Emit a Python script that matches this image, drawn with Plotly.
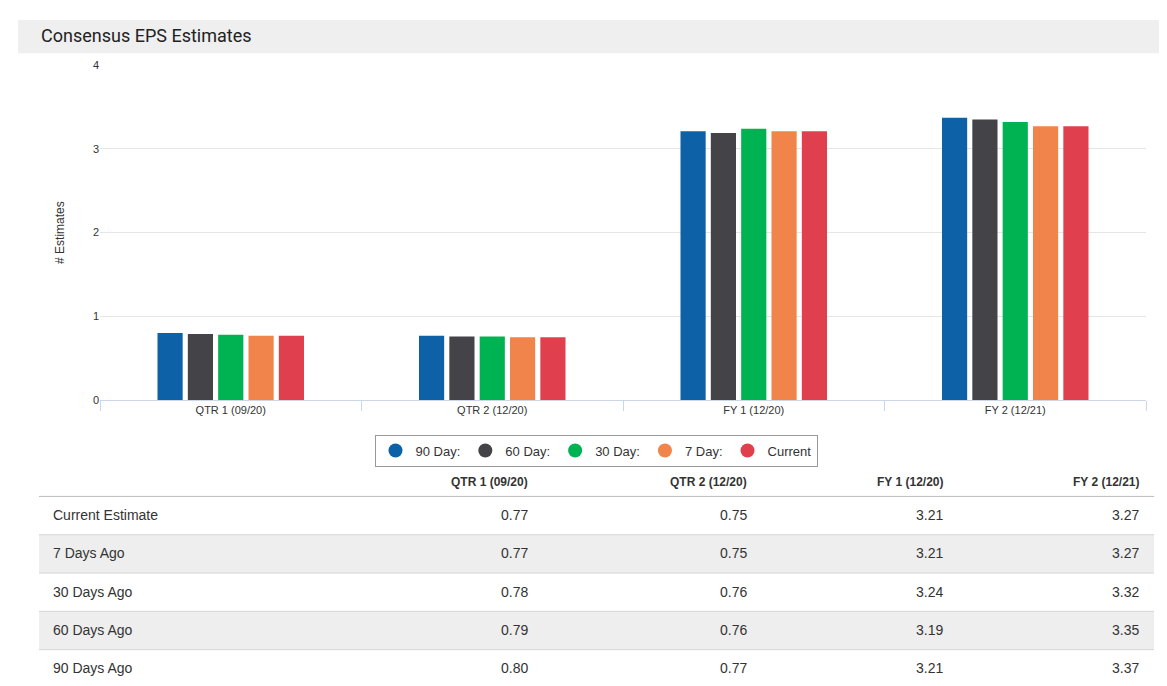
import plotly.graph_objects as go

# Consensus EPS estimates
periods = ["QTR 1 (09/20)", "QTR 2 (12/20)", "FY 1 (12/20)", "FY 2 (12/21)"]
series_names = ["90 Day:", "60 Day:", "30 Day:", "7 Day:", "Current"]
day90 = [0.80, 0.77, 3.21, 3.37]
day60 = [0.79, 0.76, 3.19, 3.35]
day30 = [0.78, 0.76, 3.24, 3.32]
day7 = [0.77, 0.75, 3.21, 3.27]
current = [0.77, 0.75, 3.21, 3.27]
colors = ["#0d62a7", "#434348", "#00b352", "#f0844a", "#e0404d"]

row_labels = ["Current Estimate", "7 Days Ago", "30 Days Ago", "60 Days Ago", "90 Days Ago"]
row_values = [current, day7, day30, day60, day90]

W, H = 1167, 686
def px(x):
    return x / W
def py(y):
    return 1 - y / H

fig = go.Figure()
for name, vals, c in zip(series_names, [day90, day60, day30, day7, current], colors):
    fig.add_trace(go.Bar(x=periods, y=vals, marker_color=c, marker_line_width=0,
                         showlegend=False, hoverinfo="y"))
    fig.add_trace(go.Scatter(x=[None], y=[None], mode="markers", name=name,
                             marker=dict(color=c, size=14, symbol="circle")))

shapes = [dict(type="rect", xref="paper", yref="paper", x0=px(10), x1=px(1160),
               y0=py(40), y1=py(6), fillcolor="#efefef", line_width=0, layer="below")]
annotations = [dict(text="Consensus EPS Estimates", x=px(31), y=py(22), xref="paper", yref="paper",
                    xanchor="left", yanchor="middle", showarrow=False,
                    font=dict(family="Roboto", size=18, color="#222"))]

# table
col_x = [522, 741, 937, 1133]
for p, cx in zip(periods, col_x):
    annotations.append(dict(text="<b>" + p + "</b>", x=px(cx), y=py(476), xref="paper", yref="paper",
                            xanchor="right", yanchor="middle", showarrow=False,
                            font=dict(family="Arial", size=12, color="#333")))
shapes.append(dict(type="line", xref="paper", yref="paper", x0=px(31), x1=px(1146),
                   y0=py(491), y1=py(491), line=dict(color="#bbb", width=1)))
for i, (lab, vals) in enumerate(zip(row_labels, row_values)):
    top = 491 + 39 * i
    if i % 2 == 1:
        shapes.append(dict(type="rect", xref="paper", yref="paper", x0=px(31), x1=px(1146),
                           y0=py(top + 39), y1=py(top), fillcolor="#eeeeee", line_width=0, layer="below"))
    if i < 4:
        shapes.append(dict(type="line", xref="paper", yref="paper", x0=px(31), x1=px(1146),
                           y0=py(top + 39), y1=py(top + 39), line=dict(color="#d5d5d5", width=1)))
    annotations.append(dict(text=lab, x=px(43), y=py(top + 19), xref="paper", yref="paper",
                            xanchor="left", yanchor="middle", showarrow=False,
                            font=dict(family="Arial", size=14, color="#333")))
    for v, cx in zip(vals, col_x):
        annotations.append(dict(text=f"{v:.2f}", x=px(cx), y=py(top + 19), xref="paper", yref="paper",
                                xanchor="right", yanchor="middle", showarrow=False,
                                font=dict(family="Arial", size=14, color="#333")))

fig.update_layout(
    width=W, height=H, margin=dict(l=0, r=0, t=0, b=0),
    paper_bgcolor="white", plot_bgcolor="white",
    barmode="group", bargap=0.42, bargroupgap=0.17,
    shapes=shapes, annotations=annotations,
    legend=dict(orientation="h", x=px(588), xanchor="center", y=py(428), yanchor="top",
                bordercolor="#999", borderwidth=1, bgcolor="white",
                font=dict(family="Arial", size=13, color="#333"), itemwidth=30),
    font=dict(family="Liberation Sans"),
)
fig.update_xaxes(domain=[px(92), px(1138)], showline=True, linecolor="#ccd6eb",
                 ticks="outside", tickson="boundaries", tickcolor="#ccd6eb", ticklen=10,
                 tickfont=dict(size=11, color="#333"))
fig.update_yaxes(domain=[py(393), py(52)], range=[0, 4], dtick=1, gridcolor="#e6e6e6",
                 zeroline=False, tickfont=dict(size=11, color="#333"),
                 title=dict(text="# Estimates", font=dict(size=12, color="#333"), standoff=25))

fig.write_html("out.html")
